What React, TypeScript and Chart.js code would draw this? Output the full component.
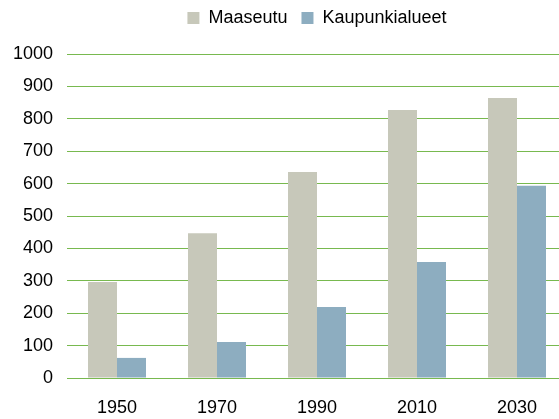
import React, { useEffect, useRef } from "react";
import { Chart, registerables } from "chart.js";

Chart.register(...registerables);

const years = ["1950", "1970", "1990", "2010", "2030"];
const maaseutu = [296, 447, 636, 827, 864];
const kaupunkialueet = [62, 111, 219, 358, 593];
const seriesNames = ["Maaseutu", "Kaupunkialueet"];
const yMin = 0;
const yMax = 1000;
const yStep = 100;

const FONT = "'Liberation Sans', Arial, sans-serif";

const legendSpacer = {
  id: "legendSpacer",
  beforeInit(chart: any) {
    const legend = chart.legend;
    if (!legend) return;
    const origFit = legend.fit;
    legend.fit = function fit() {
      origFit.call(this);
      this.height = 59;
    };
  },
};

export default function App() {
  const ref = useRef<HTMLCanvasElement | null>(null);

  useEffect(() => {
    if (!ref.current) return;
    const chart = new Chart(ref.current, {
      type: "bar",
      data: {
        labels: years,
        datasets: [
          {
            label: seriesNames[0],
            data: maaseutu,
            backgroundColor: "#c7c8ba",
            borderWidth: 0,
          },
          {
            label: seriesNames[1],
            data: kaupunkialueet,
            backgroundColor: "#8dadc0",
            borderWidth: 0,
          },
        ],
      },
      plugins: [legendSpacer],
      options: {
        responsive: false,
        animation: false,
        devicePixelRatio: 1,
        layout: { padding: { top: -5, left: 13, right: 3, bottom: 0 } },
        datasets: {
          bar: { categoryPercentage: 0.58, barPercentage: 1 },
        },
        plugins: {
          legend: {
            position: "top",
            fullSize: false,
            labels: {
              boxWidth: 12,
              boxHeight: 12,
              padding: 14,
              color: "#000",
              font: { family: FONT, size: 18 },
            },
          },
          tooltip: { enabled: false },
        },
        scales: {
          x: {
            grid: { display: false, drawTicks: false },
            border: { display: false },
            ticks: {
              color: "#000",
              padding: 19,
              font: { family: FONT, size: 18 },
            },
            afterFit: (scale: any) => {
              scale.height = 41;
            },
          },
          y: {
            min: yMin,
            max: yMax,
            grid: { color: "#78b94f", lineWidth: 1, drawTicks: false },
            border: { display: false },
            ticks: {
              stepSize: yStep,
              color: "#000",
              padding: 14,
              font: { family: FONT, size: 18 },
              callback: (v: any) => String(v),
            },
            afterFit: (scale: any) => {
              scale.width = 54;
            },
          },
        },
      },
    });
    return () => chart.destroy();
  }, []);

  return (
    <div
      style={{
        position: "absolute",
        left: 0,
        top: 0,
        width: 559,
        height: 419,
        overflow: "hidden",
        background: "#fff",
      }}
    >
      <canvas ref={ref} width={570} height={419} style={{ display: "block" }} />
    </div>
  );
}
